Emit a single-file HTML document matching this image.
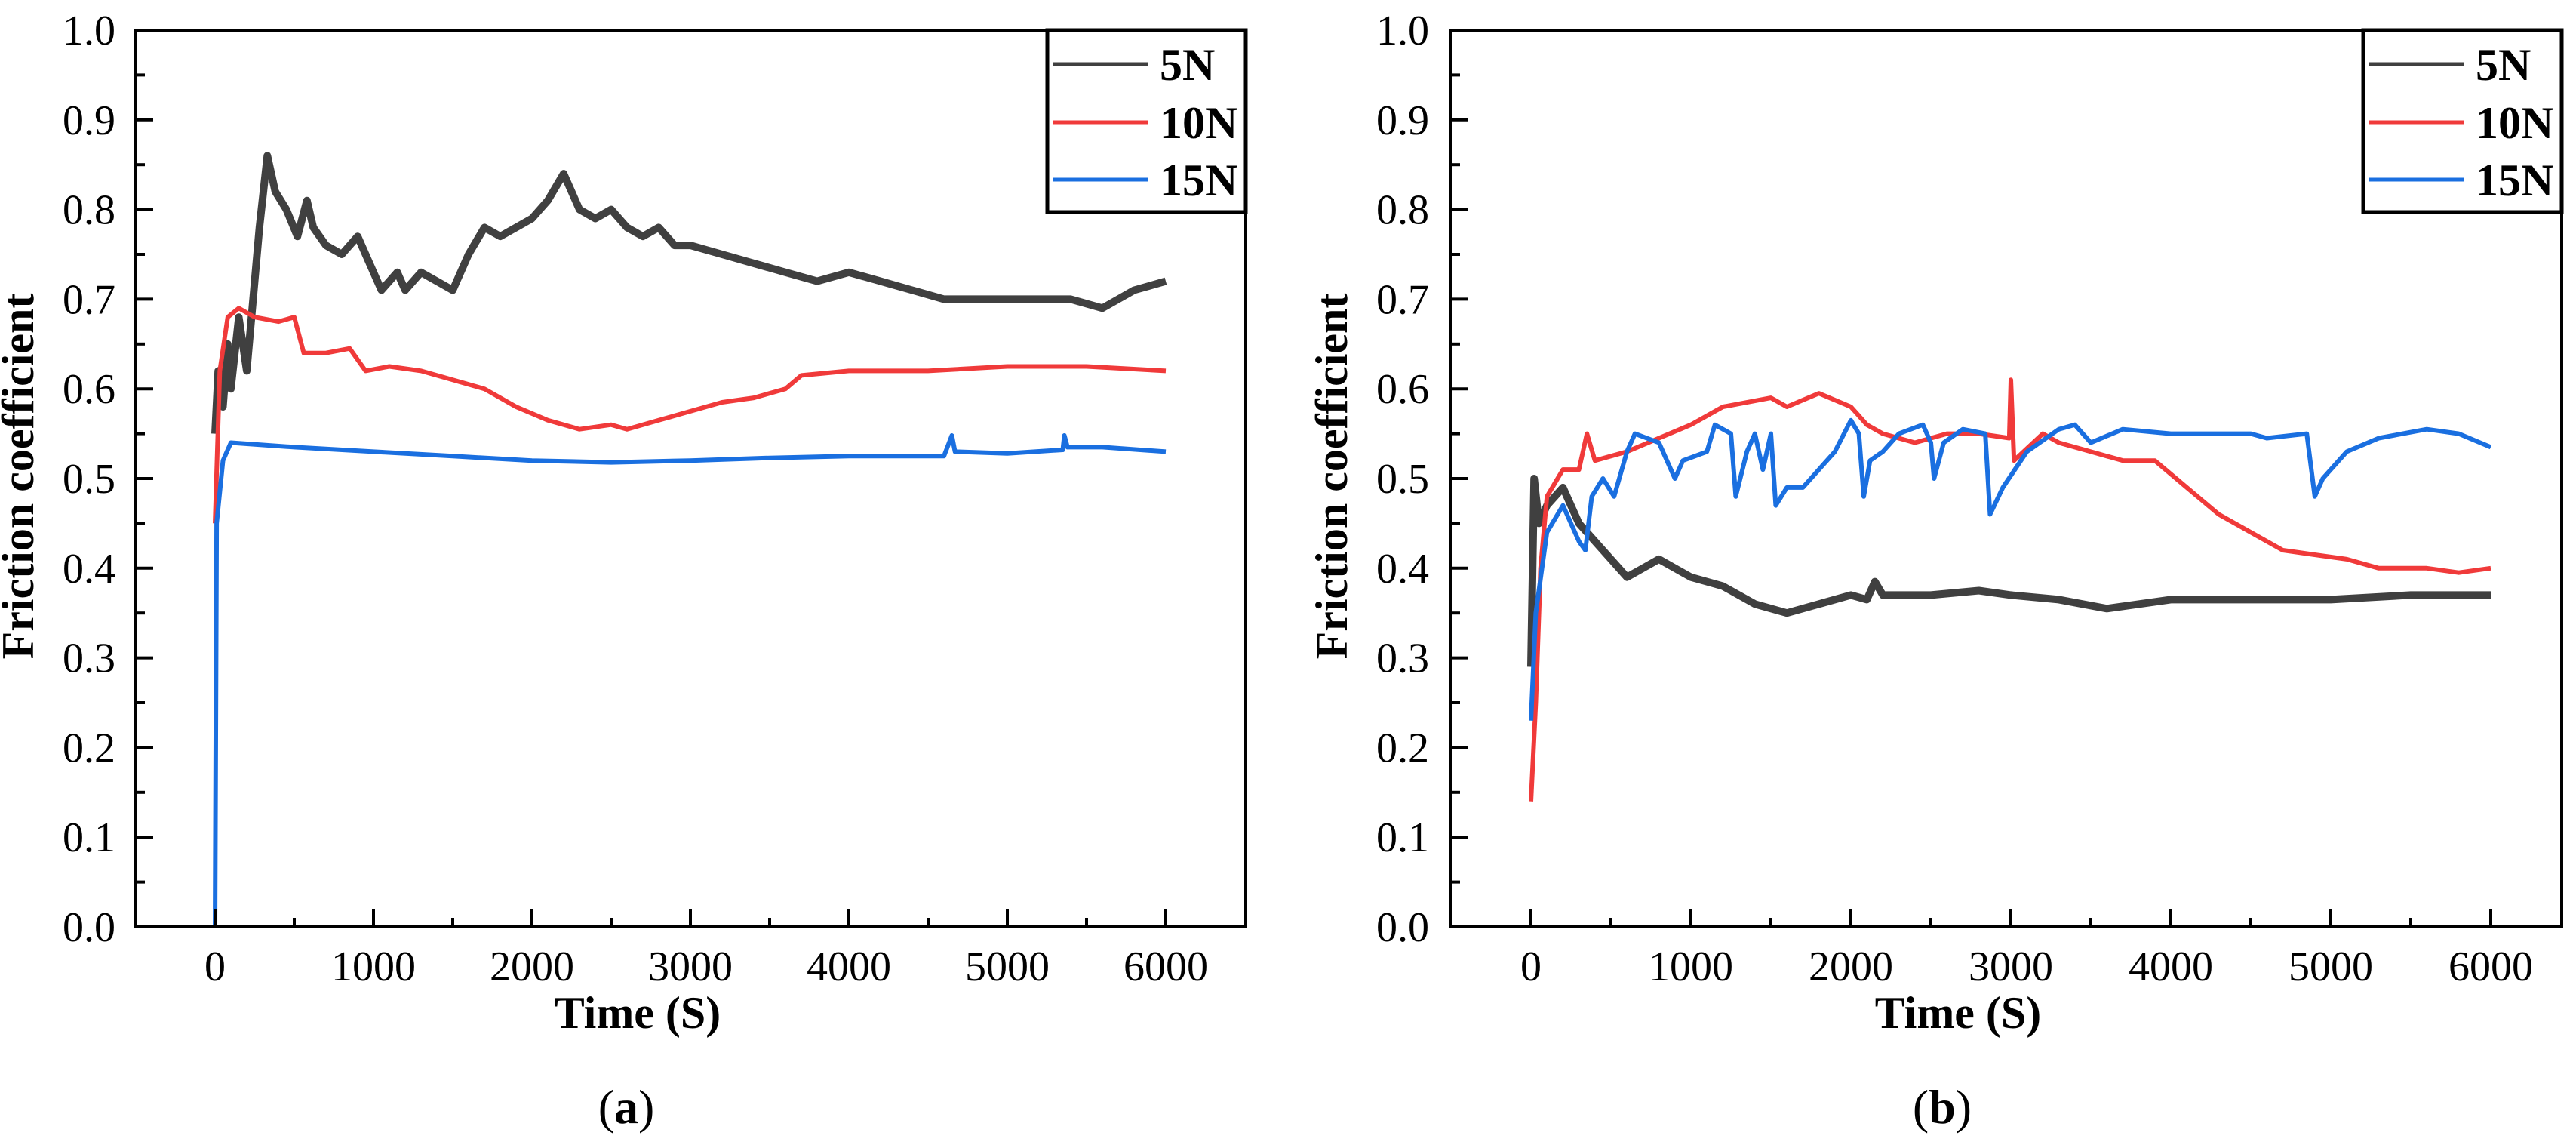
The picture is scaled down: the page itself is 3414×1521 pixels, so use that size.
<!DOCTYPE html>
<html><head><meta charset="utf-8"><style>
html,body{margin:0;padding:0;background:#fff;}
svg{display:block;}
text{font-family:"Liberation Serif","Times New Roman",serif;}
</style></head><body>
<svg id="fig" width="3414" height="1521" xmlns="http://www.w3.org/2000/svg"></svg>
<script>
const xTicks=[0,1000,2000,3000,4000,5000,6000];
const yTicks=[0.0,0.1,0.2,0.3,0.4,0.5,0.6,0.7,0.8,0.9,1.0];
const seriesNames=["5N","10N","15N"];
const a5t=[0,20,50,80,100,150,200,250,280,330,380,450,520,580,620,700,800,900,1000,1050,1150,1200,1300,1400,1500,1600,1700,1800,1900,2000,2100,2200,2300,2400,2500,2600,2700,2800,2900,3000,3200,3400,3600,3800,4000,4200,4400,4600,4800,5000,5200,5400,5600,5800,6000];
const a5v=[0.55,0.62,0.58,0.65,0.6,0.68,0.62,0.72,0.78,0.86,0.82,0.8,0.77,0.81,0.78,0.76,0.75,0.77,0.73,0.71,0.73,0.71,0.73,0.72,0.71,0.75,0.78,0.77,0.78,0.79,0.81,0.84,0.8,0.79,0.8,0.78,0.77,0.78,0.76,0.76,0.75,0.74,0.73,0.72,0.73,0.72,0.71,0.7,0.7,0.7,0.7,0.7,0.69,0.71,0.72];
const a10t=[0,30,80,150,250,400,500,560,700,850,950,1100,1300,1500,1700,1900,2100,2300,2500,2600,2800,3000,3200,3400,3600,3700,4000,4500,5000,5500,6000];
const a10v=[0.45,0.62,0.68,0.69,0.68,0.675,0.68,0.64,0.64,0.645,0.62,0.625,0.62,0.61,0.6,0.58,0.565,0.555,0.56,0.555,0.565,0.575,0.585,0.59,0.6,0.615,0.62,0.62,0.625,0.625,0.62];
const a15t=[0,10,50,100,500,1000,1500,2000,2500,3000,3500,4000,4600,4650,4670,5000,5350,5360,5380,5600,6000];
const a15v=[0,0.45,0.52,0.54,0.535,0.53,0.525,0.52,0.518,0.52,0.523,0.525,0.525,0.548,0.53,0.528,0.532,0.548,0.535,0.535,0.53];
const b5t=[0,20,50,100,200,300,400,500,600,700,800,900,1000,1200,1400,1600,1800,2000,2100,2150,2200,2500,2800,3000,3300,3600,4000,4500,5000,5500,6000];
const b5v=[0.29,0.5,0.45,0.47,0.49,0.45,0.43,0.41,0.39,0.4,0.41,0.4,0.39,0.38,0.36,0.35,0.36,0.37,0.365,0.385,0.37,0.37,0.375,0.37,0.365,0.355,0.365,0.365,0.365,0.37,0.37];
const b10t=[0,30,60,100,200,300,350,400,600,800,1000,1200,1500,1600,1800,2000,2100,2200,2400,2600,2800,2990,3000,3020,3200,3300,3500,3700,3900,4100,4300,4500,4700,4900,5100,5300,5600,5800,6000];
const b10v=[0.14,0.25,0.4,0.48,0.51,0.51,0.55,0.52,0.53,0.545,0.56,0.58,0.59,0.58,0.595,0.58,0.56,0.55,0.54,0.55,0.55,0.545,0.61,0.52,0.55,0.54,0.53,0.52,0.52,0.49,0.46,0.44,0.42,0.415,0.41,0.4,0.4,0.395,0.4];
const b15t=[0,30,100,200,300,340,380,450,520,600,650,800,900,950,1100,1150,1250,1280,1350,1400,1450,1500,1530,1600,1700,1800,1900,2000,2050,2080,2120,2200,2300,2450,2500,2520,2580,2700,2840,2870,2950,3100,3300,3400,3500,3700,4000,4500,4600,4850,4900,4950,5100,5300,5600,5800,6000];
const b15v=[0.23,0.35,0.44,0.47,0.43,0.42,0.48,0.5,0.48,0.53,0.55,0.54,0.5,0.52,0.53,0.56,0.55,0.48,0.53,0.55,0.51,0.55,0.47,0.49,0.49,0.51,0.53,0.565,0.55,0.48,0.52,0.53,0.55,0.56,0.54,0.5,0.54,0.555,0.55,0.46,0.49,0.53,0.555,0.56,0.54,0.555,0.55,0.55,0.545,0.55,0.48,0.5,0.53,0.545,0.555,0.55,0.535];
const colors=["#404040","#f03a3a","#1a6fe0"];

const NS="http://www.w3.org/2000/svg";
const svg=document.getElementById('fig');
function mk(tag,attrs,parent){const e=document.createElementNS(NS,tag);for(const k in attrs)e.setAttribute(k,attrs[k]);(parent||svg).appendChild(e);return e;}

function panel(id,left,right,zeroX,series,labelX,titleX,caption,capX){
  const top=40,bottom=1228;
  const per=(zeroX-left)/500;
  const xs=v=>zeroX+v*per;
  const ys=v=>bottom-(v)*(bottom-top);
  const g=mk('g',{});
  
  
  series.forEach((s,i)=>{
    let d='';
    s[0].forEach((t,j)=>{d+=(j?'L':'M')+xs(t).toFixed(1)+' '+ys(s[1][j]).toFixed(1);});
    const p=mk('path',{d:d,fill:'none',stroke:colors[i],'stroke-width':i==0?10:6,'stroke-linejoin':'round'},g);
    
    
  });
  const fr=mk('rect',{x:left,y:top,width:right-left,height:bottom-top,fill:'none',stroke:'#000','stroke-width':4},g);
  
  
  for(let k=0;k<=20;k++){
    const v=k*0.05,y=ys(v),len=k%2?12:23;
    mk('line',{x1:left,x2:left+len,y1:y,y2:y,stroke:'#000','stroke-width':4},g);
  }
  yTicks.forEach(v=>{
    const t=mk('text',{x:labelX,y:ys(v)+19,'text-anchor':'end','font-size':56},g);
    t.textContent=v.toFixed(1);
    
    
  });
  for(let v=0;v<=6000;v+=500){
    const x=xs(v),len=v%1000?12:23;
    mk('line',{x1:x,x2:x,y1:bottom,y2:bottom-len,stroke:'#000','stroke-width':4},g);
  }
  xTicks.forEach(v=>{
    const t=mk('text',{x:xs(v),y:1299,'text-anchor':'middle','font-size':56},g);
    t.textContent=String(v);
    
    
  });
  const xt=mk('text',{x:xs(3000)-70,y:1362,'text-anchor':'middle','font-size':60,'font-weight':'bold'},g);
  xt.textContent='Time (S)';
  
  
  const yt=mk('text',{x:titleX,y:631,'text-anchor':'middle','font-size':60,'font-weight':'bold',transform:'rotate(-90 '+titleX+' 631)'},g);
  yt.textContent='Friction coefficient';
  
  
  const lx=right-263;
  const lg=mk('rect',{x:lx,y:top,width:263,height:241,fill:'#fff',stroke:'#000','stroke-width':5},g);
  
  
  [85,162,238].forEach((y,i)=>{
    const l=mk('line',{x1:lx+7,x2:lx+134,y1:y,y2:y,stroke:colors[i],'stroke-width':5},g);
    
    
    const t=mk('text',{x:lx+149,y:y+21,'font-size':60,'font-weight':'bold'},g);
    t.textContent=seriesNames[i];
    
    
  });
  const c=mk('text',{x:capX,y:1488,'text-anchor':'middle','font-size':64},g);
  c.innerHTML='(<tspan font-weight="bold">'+caption+'</tspan>)';
  
  
}
panel('panel-a',180,1651,285,[[a5t,a5v],[a10t,a10v],[a15t,a15v]],153,44,'a',830);
panel('panel-b',1923,3395,2029,[[b5t,b5v],[b10t,b10v],[b15t,b15v]],1894,1785,'b',2574);
</script>
</body></html>
